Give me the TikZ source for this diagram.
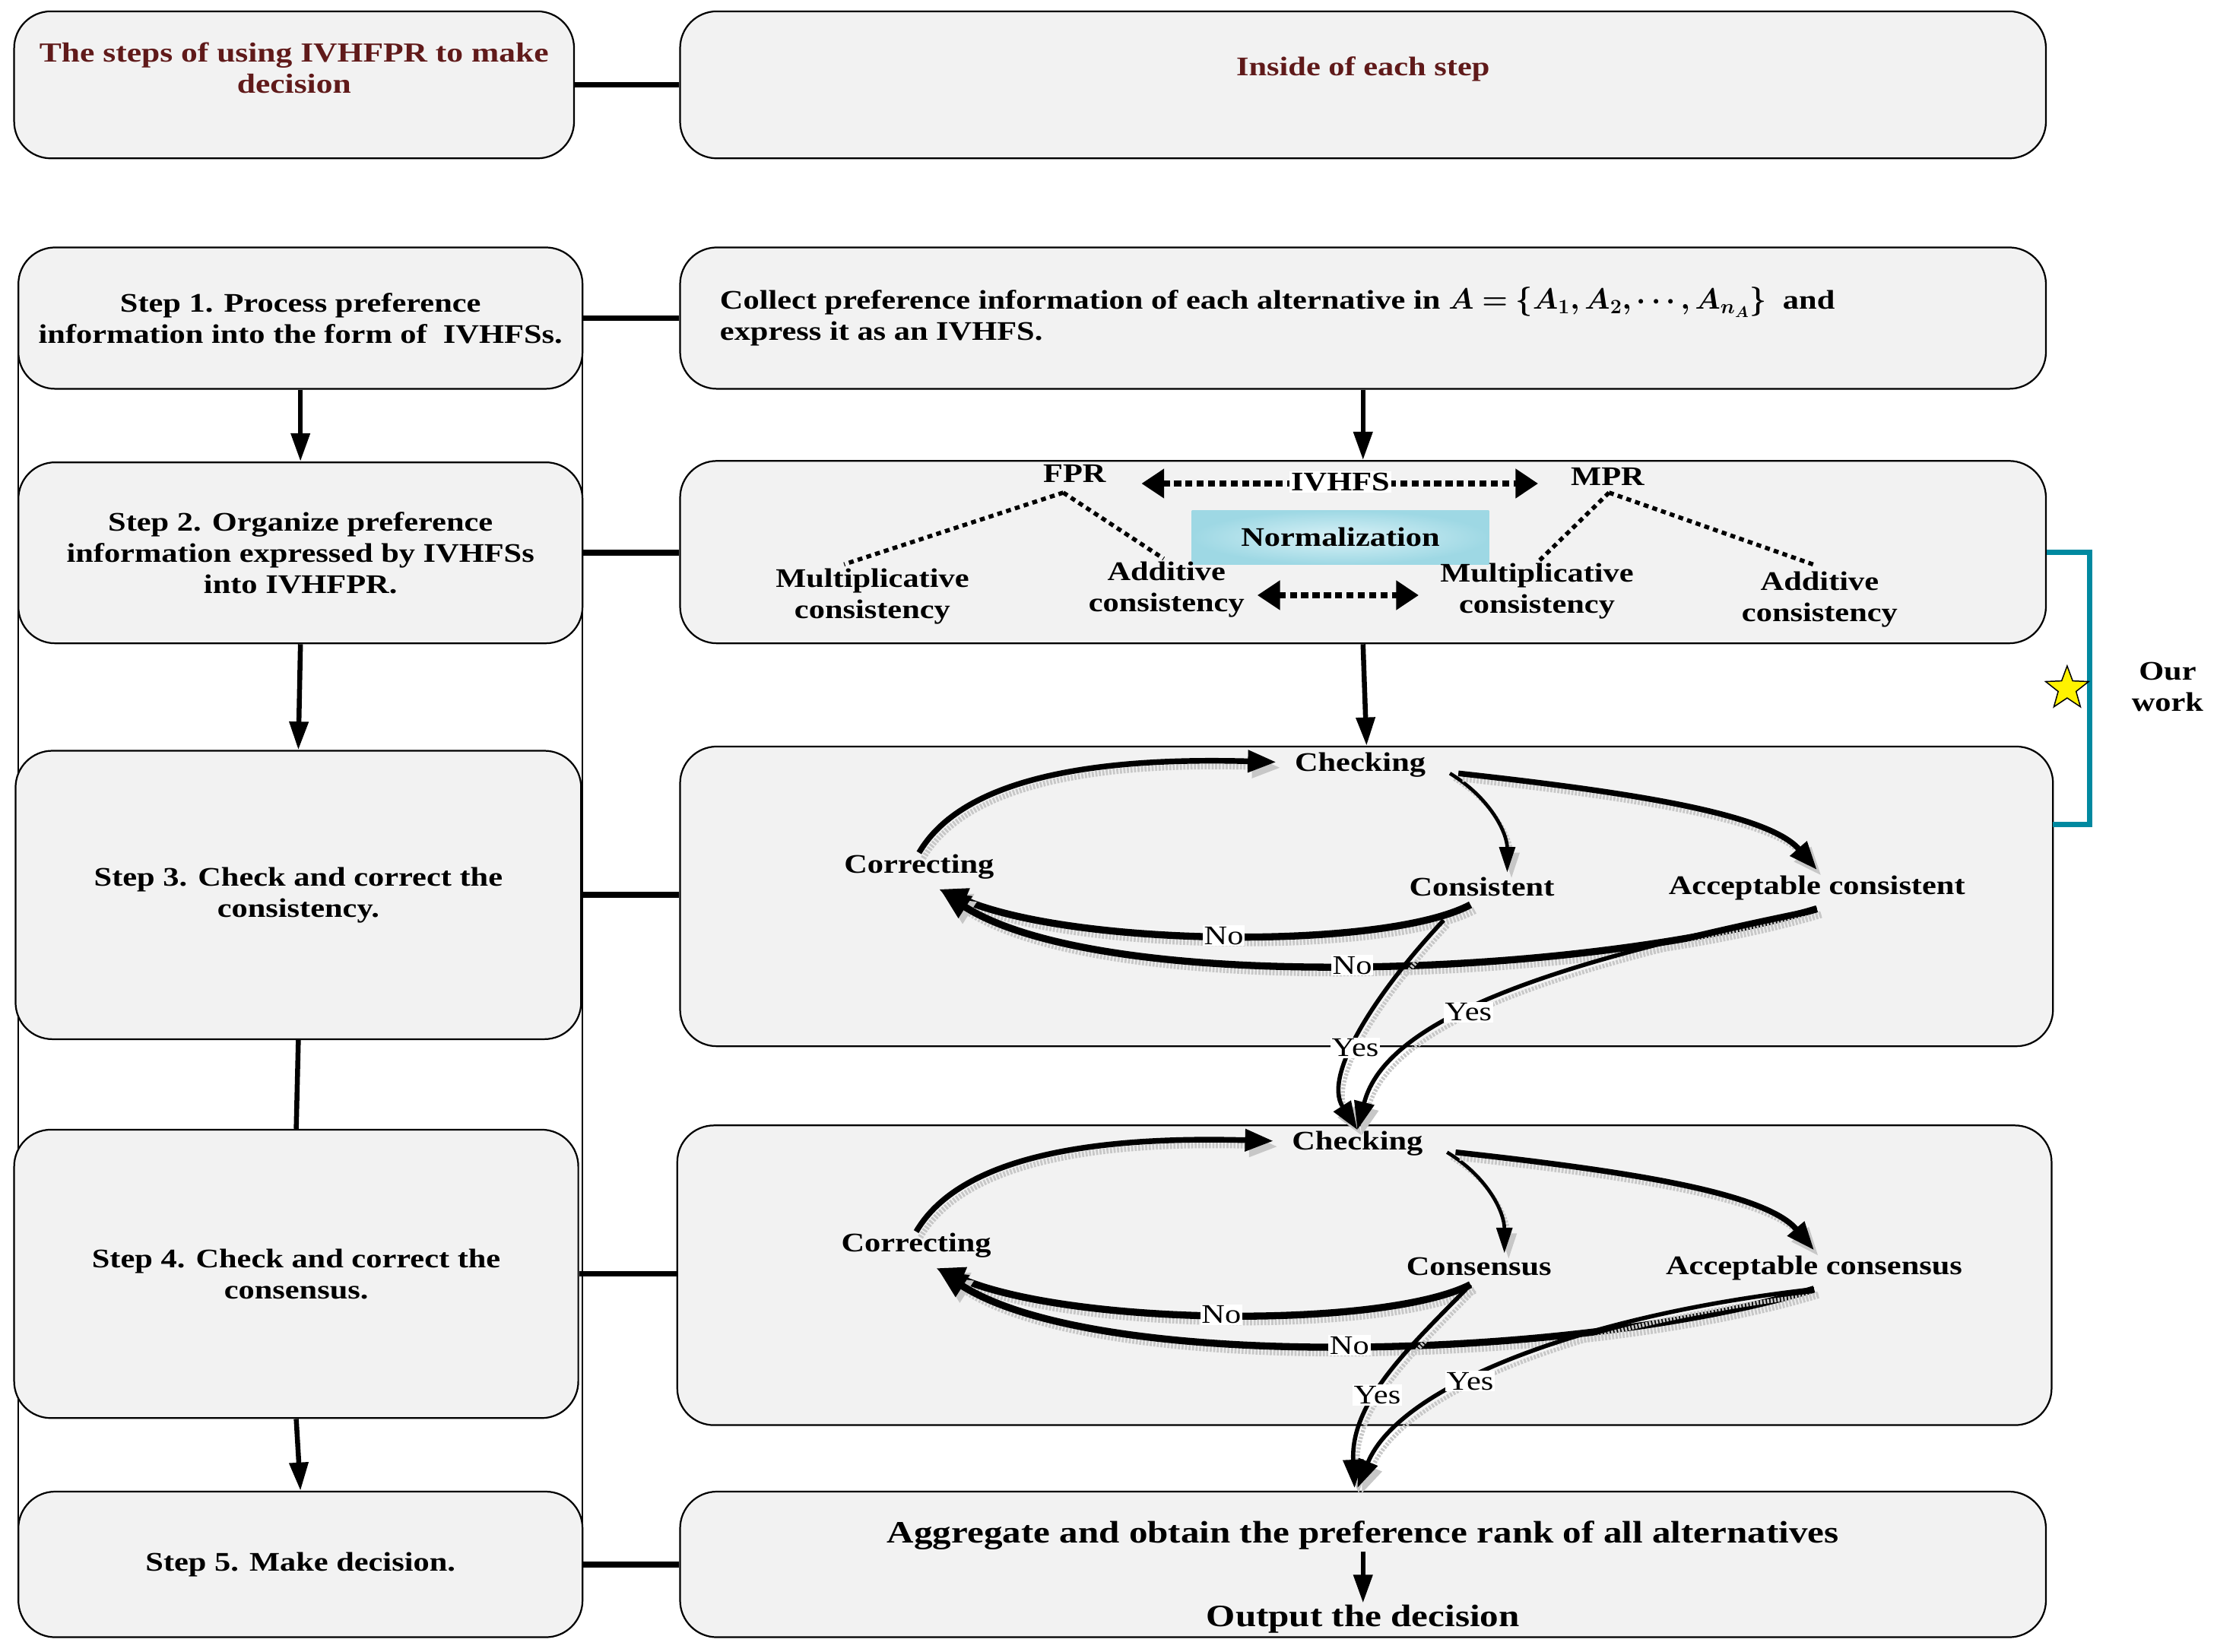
\documentclass[tikz,border=0pt]{standalone}
\usepackage{fontspec}
\usepackage{bm}
\setmainfont{Liberation Serif}[FakeStretch=1.2]
\usetikzlibrary{arrows.meta,shapes.geometric,calc}
\definecolor{boxfill}{HTML}{F2F2F2}
\definecolor{titlered}{RGB}{96,26,26}
\definecolor{tealbr}{RGB}{0,137,160}
\definecolor{normout}{RGB}{158,216,228}
\definecolor{normin}{RGB}{218,242,247}
\newcommand\myfont{\fontsize{19}{22}\selectfont\bfseries}
\newcommand\mytitlefont{\fontsize{19.5}{22}\selectfont\bfseries}
\newcommand\mybigfont{\fontsize{22}{24}\selectfont\bfseries}
\newcommand\mytagfont{\fontsize{19}{20}\selectfont}
\begin{document}
\begin{tikzpicture}[x=1pt,y=-1pt,
  box/.style={draw=black,line width=1.2pt,fill=boxfill,rounded corners=26pt,inner sep=0pt,align=center,font=\myfont},
  lbl/.style={inner sep=1pt,align=center,font=\myfont},
  tag/.style={fill=white,inner sep=1pt,font=\mytagfont},
  conn/.style={line width=4pt},
  shad/.style={preaction={draw=black!22,line width=#1,dash pattern=on 1.5pt off 1pt,transform canvas={shift={(3pt,-4pt)}}}},
  arr/.style={line width=3.5pt,-{Triangle[length=20pt,width=13pt]}},
  thinarr/.style={shad=2.5pt,line width=2.5pt,-{Triangle[length=18pt,width=11pt]}},
  fatarr/.style={shad=4pt,line width=4pt,-{Triangle[length=20pt,width=15pt]}},
  noarr/.style={shad=5pt,line width=5pt,-{Triangle[length=20pt,width=17pt]}},
  yesarr/.style={shad=3pt,line width=3pt,-{Triangle[length=20pt,width=14pt]}},
  dotl/.style={line width=3pt,dash pattern=on 3.5pt off 3pt},
  dotarr/.style={line width=4pt,dash pattern=on 5pt off 3pt,{Triangle[length=16pt,width=20pt]}-{Triangle[length=16pt,width=20pt]}},
]
\useasboundingbox (0,0) rectangle (1568,1168);

% left frame
\node[draw,line width=1pt,minimum width=399pt,minimum height=881pt,inner sep=0pt] (frame) at (212.5,665.5) {};

% titles
\node[box,minimum width=396pt,minimum height=104pt] (t1) at (208,60) {};
\node[lbl,text=titlered,font=\mytitlefont] (t1txt) at (208,48) {The steps of using IVHFPR to make\\decision};
\node[box,minimum width=966pt,minimum height=104pt] (t2) at (964,60) {};
\node[lbl,text=titlered] (t2txt) at (964,49) {Inside of each step};
\draw[conn] (t1.east) -- (t2.west);

% steps
\node[box,minimum width=399pt,minimum height=100pt] (s1) at (212.5,225) {Step 1. Process preference\\information into the form of\ \ IVHFSs.};
\node[box,minimum width=399pt,minimum height=128pt] (s2) at (212.5,391) {Step 2. Organize preference\\information expressed by IVHFSs\\into IVHFPR.};
\node[box,minimum width=400pt,minimum height=204pt] (s3) at (211,633) {Step 3. Check and correct the\\consistency.};
\node[box,minimum width=399pt,minimum height=204pt] (s4) at (209.5,901) {Step 4. Check and correct the\\consensus.};
\node[box,minimum width=399pt,minimum height=103pt] (s5) at (212.5,1106.5) {Step 5. Make decision.};

\draw[arr] (s1.south) -- (s2.north);
\draw[arr] (s2.south) -- (s3.north);
\draw[line width=3.5pt] (s3.south) -- (s4.north);
\draw[arr] (s4.south) -- (s5.north);

% right boxes
\node[box,minimum width=966pt,minimum height=100pt] (r1) at (964,225) {};
\node[box,minimum width=966pt,minimum height=129pt] (r2) at (964,390.5) {};
\node[box,minimum width=971pt,minimum height=212pt] (r3) at (966.5,634) {};
\node[box,minimum width=972pt,minimum height=212pt] (r4) at (965,902) {};
\node[box,minimum width=966pt,minimum height=103pt] (r5) at (964,1106.5) {};

\draw[conn] (s1.east) -- (s1.east -| r1.west);
\draw[conn] (s2.east) -- (s2.east -| r2.west);
\draw[conn] (s3.east) -- (s3.east -| r3.west);
\draw[conn] (s4.east) -- (s4.east -| r4.west);
\draw[conn] (s5.east) -- (s5.east -| r5.west);

\draw[arr] (r1.south) -- (r2.north);
\draw[arr] (r2.south) -- (r3.north);

% R1 text
\node[lbl,anchor=west,align=left] (r1txt) at (508,224) {Collect preference information of each alternative in {\fontsize{22}{22}\selectfont$\bm{A=\{A_1,A_2,\cdots,A_{n_A}\}}$}\ \ and\\express it as an IVHFS.};

% R2
\node[lbl] (fpr) at (760,335) {FPR};
\node[lbl] (mpr) at (1137,337) {MPR};
\draw[dotarr] ($(fpr.east)+(24,7)$) -- ($(mpr.west)+(-22,5)$);
\node[fill=white,inner sep=1pt,font=\myfont] (ivhfs) at (948,341) {IVHFS};
\node[inner color=normin,outer color=normout,minimum width=210pt,minimum height=38pt,font=\myfont] (norm) at (948,380) {Normalization};
\node[lbl] (mc1) at (617,422) {Multiplicative\\consistency};
\node[lbl] (ac1) at (825,417) {Additive\\consistency};
\node[lbl] (mc2) at (1087,418) {Multiplicative\\consistency};
\node[lbl] (ac2) at (1287,424) {Additive\\consistency};
\coordinate (fa) at ($(fpr.south)+(-8,6)$);
\coordinate (ma) at ($(mpr.south)+(1,4)$);
\draw[dotl] (fa) -- ($(mc1.north)+(-20,-2)$);
\draw[dotl] (fa) -- ($(ac1.north)+(-2,-1)$);
\draw[dotl] (ma) -- ($(mc2.north)+(1,0)$);
\draw[dotl] (ma) -- ($(ac2.north)+(-2,-3)$);
\draw[dotarr] ($(ac1.east)+(8,4)$) -- ($(mc2.west)+(-14,3)$);

% R3
\node[lbl] (check3) at (962,541) {Checking};
\node[lbl] (corr3) at (650,613) {Correcting};
\node[lbl] (cons3) at (1048,627) {Consistent};
\node[lbl] (acc3) at (1285,628) {Acceptable consistent};
% R4
\node[lbl] (check4) at (960,809) {Checking};
\node[lbl] (corr4) at (648,881) {Correcting};
\node[lbl] (cons4) at (1046,896) {Consensus};
\node[lbl] (acc4) at (1283,897) {Acceptable consensus};

\draw[fatarr] (corr3.north) .. controls (678,555) and (760,535) .. ($(check3.west)+(-12,-2)$);
\draw[thinarr] ($(check3.east)+(16,6)$) .. controls (1055,565) and (1066,590) .. ($(cons3.north)+(18,-2)$);
\draw[fatarr] ($(check3.east)+(22,6)$) .. controls (1150,560) and (1250,575) .. ($(acc3.north)+(0,-3)$);
\draw[noarr] ($(cons3.south)+(-8,5)$) .. controls (980,672) and (760,670) .. ($(corr3.south)+(14,6)$) node[tag,pos=0.5]{No};
\draw[noarr] ($(acc3.south)+(0,5)$) .. controls (1120,692) and (780,704) .. ($(corr3.south)+(16,8)$) node[tag,pos=0.5]{No};
\draw[yesarr] ($(cons3.south)+(-27,16)$) .. controls (975,700) and (935,760) .. (check4.north) node[tag,pos=0.58]{Yes};
\draw[yesarr] ($(acc3.south)+(0,5)$) .. controls (1100,680) and (980,720) .. (check4.north) node[tag,pos=0.57]{Yes};

\draw[fatarr] (corr4.north) .. controls (676,823) and (758,803) .. ($(check4.west)+(-12,-2)$);
\draw[thinarr] ($(check4.east)+(16,6)$) .. controls (1053,833) and (1064,858) .. ($(cons4.north)+(18,-2)$);
\draw[fatarr] ($(check4.east)+(22,6)$) .. controls (1148,828) and (1248,843) .. ($(acc4.north)+(0,-3)$);
\draw[noarr] ($(cons4.south)+(-6,5)$) .. controls (978,940) and (758,938) .. ($(corr4.south)+(14,6)$) node[tag,pos=0.5]{No};
\draw[noarr] ($(acc4.south)+(0,5)$) .. controls (1118,962) and (778,972) .. ($(corr4.south)+(16,8)$) node[tag,pos=0.5]{No};
\draw[yesarr] ($(cons4.south)+(-6,5)$) .. controls (1000,950) and (955,990) .. ($(r5.north)+(-6,-2)$) node[tag,pos=0.6]{Yes};
\draw[yesarr] ($(acc4.south)+(0,5)$) .. controls (1120,930) and (990,980) .. ($(r5.north)+(-4,-2)$) node[tag,pos=0.6]{Yes};

% R5
\node[lbl,font=\mybigfont] (agg) at (964,1086) {Aggregate and obtain the preference rank of all alternatives};
\node[lbl,font=\mybigfont] (out) at (964,1145) {Output the decision};
\draw[arr] (agg.south) -- (out.north);

% our work
\coordinate (brb) at (1452,583);
\draw[tealbr,line width=4pt] (r2.east) -| (1478,583) -- (brb);
\node[star,star points=5,star point ratio=2.4,fill=yellow,draw=black,line width=0.8pt,minimum size=32pt,inner sep=0pt] (star) at (1462,487) {};
\node[lbl] (our) at (1533,486) {Our\\work};
\end{tikzpicture}
\end{document}
